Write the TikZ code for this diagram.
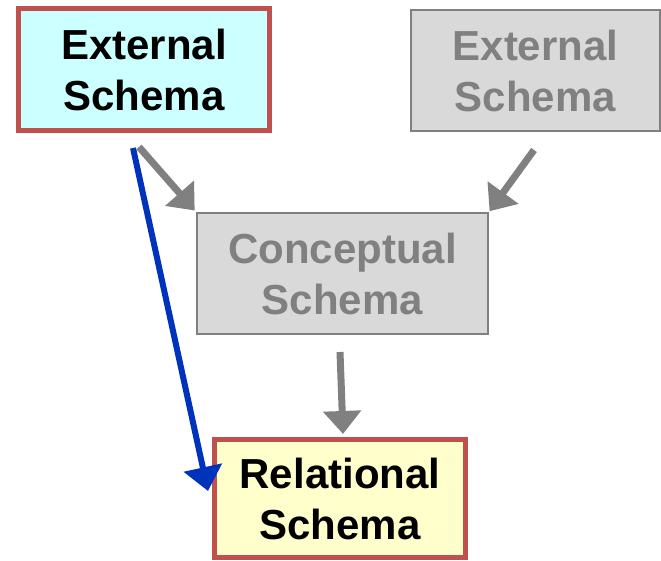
\documentclass[tikz,border=0pt]{standalone}
\usepackage{fontspec}
\setmainfont{Liberation Sans}
\usetikzlibrary{arrows.meta,calc}
\definecolor{boxred}{HTML}{C0504D}
\definecolor{cyanfill}{HTML}{CCFFFF}
\definecolor{yelfill}{HTML}{FFFFCC}
\definecolor{grayfill}{HTML}{D9D9D9}
\definecolor{graydark}{HTML}{808080}
\definecolor{arrowblue}{HTML}{0033BB}
\tikzset{
  schemabox/.style={rectangle, inner sep=0pt, align=center,
    font=\fontsize{42}{51}\selectfont\bfseries},
  active/.style={schemabox, draw=boxred, line width=5pt, text=black},
  inactive/.style={schemabox, draw=graydark, fill=grayfill, line width=2pt, text=graydark},
  grayarrow/.style={draw=graydark, line width=7pt, -{Triangle[length=23pt,width=37pt]}},
  bluearrow/.style={draw=arrowblue, line width=6pt, -{Triangle[length=24pt,width=38pt]}}
}
\begin{document}
\begin{tikzpicture}[x=1pt,y=-1pt]
\useasboundingbox (0,0) rectangle (661,561);
\node[active, fill=cyanfill, minimum width=251pt, minimum height=122pt] (ext1) at (144,69.5) {External\\Schema};
\node[inactive, minimum width=249pt, minimum height=121pt] (ext2) at (535.5,70.5) {External\\Schema};
\node[inactive, minimum width=291pt, minimum height=121pt] (conc) at (342.5,273.5) {Conceptual\\Schema};
\node[active, fill=yelfill, minimum width=251pt, minimum height=118pt] (rel) at (340,498.5) {Relational\\Schema};
\coordinate (s1) at (139,147);
\coordinate (s2) at (534,150);
\coordinate (s3) at (340,352);
\coordinate (s4) at (133,148);
\coordinate (t4) at (208,491);
\draw[grayarrow, shorten >=2pt] (s1) -- (conc.north west);
\draw[grayarrow, shorten >=1pt] (s2) -- (conc.north east);
\draw[grayarrow] (s3) -- ($(rel.north)+(3,-3)$);
\draw[bluearrow] (s4) -- (t4);
\end{tikzpicture}
\end{document}
